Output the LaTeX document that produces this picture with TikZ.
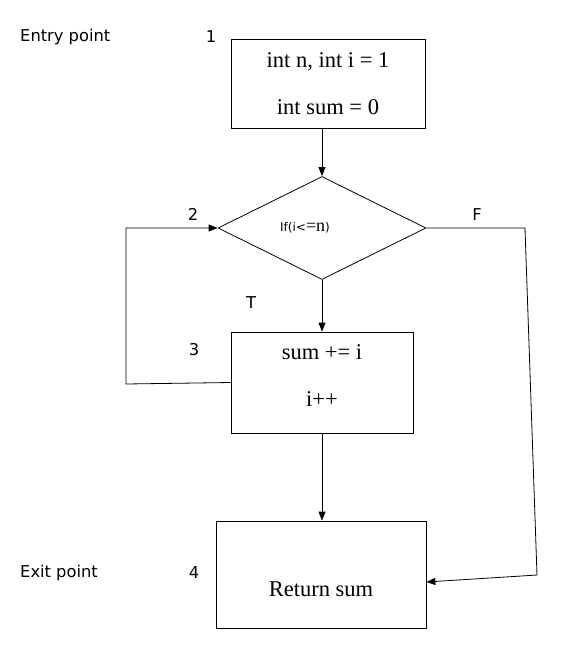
\documentclass[tikz,border=0pt]{standalone}
\usepackage{fontspec}
\setmainfont{Liberation Serif}
\setsansfont{DejaVu Sans}
\usetikzlibrary{shapes.geometric,arrows.meta}
\tikzset{
  box/.style={draw,thick,rectangle,inner sep=0pt,font=\fontsize{22.5}{47}\selectfont,align=center},
  dec/.style={draw,thick,diamond,inner sep=0pt,minimum width=208pt,minimum height=103pt},
  lbl/.style={font=\sffamily\fontsize{16.3}{18}\selectfont,inner sep=0pt},
  arr/.style={thick,-{Triangle[length=9pt,width=7pt]}},
  ln/.style={thick}
}
\begin{document}
\begin{tikzpicture}[x=1pt,y=-1pt]
\useasboundingbox (0,0) rectangle (578,649);
\node[box,minimum width=194pt,minimum height=89pt] (b1) at (328,83.5) {int n, int i = 1\\int sum = 0};
\node[dec] (dia) at (322,228) {{\sffamily\fontsize{12}{14}\selectfont If(i<}{\fontsize{18}{18}\selectfont =n}{\sffamily\fontsize{12}{14}\selectfont )}\hspace*{34pt}};
\node[box,minimum width=182pt,minimum height=101pt] (b2) at (322,382.5) {\raisebox{23.5pt}[0pt][0pt]{\begin{tabular}[t]{@{}c@{}}sum += i\\i++\end{tabular}}};
\node[box,minimum width=210pt,minimum height=107pt] (b3) at (321,574.5) {\raisebox{-21.5pt}[0pt][0pt]{Return sum}};

\node[lbl,anchor=west] (entry) at (20,37) {Entry point};
\node[lbl] (n1) at (211,37) {1};
\node[lbl] (n2) at (193,214) {2};
\node[lbl] (n3) at (194,350) {3};
\node[lbl] (n4) at (194,573) {4};
\node[lbl,anchor=west] (exit) at (20,573) {Exit point};
\node[lbl] (t) at (251,303) {T};
\node[lbl] (f) at (477,215) {F};

\coordinate (l1) at (126,384);
\coordinate (l2) at (126,228);
\coordinate (r1) at (525,228);
\coordinate (r2) at (537,575);

\draw[arr] (dia.north |- b1.south) -- (dia.north);
\draw[arr] (dia.south) -- (b2.north);
\draw[arr] (b2.south) -- (b2.south |- b3.north);
\draw[arr] (b2.west) -- (l1) -- (l2) -- (dia.west);
\draw[arr] (dia.east) -- (r1) -- (r2) -- ([yshift=-7.5pt]b3.east);
\end{tikzpicture}
\end{document}
